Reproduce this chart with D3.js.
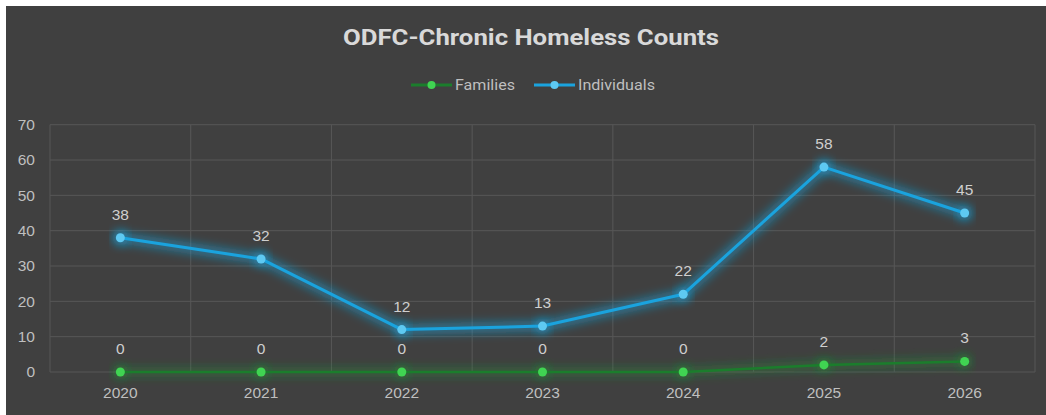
<!DOCTYPE html>
<html><head><meta charset="utf-8">
<script src="https://cdn.jsdelivr.net/npm/d3@7/dist/d3.min.js"></script>
<style>html,body{margin:0;padding:0;background:#fff;}svg{display:block;}</style>
</head><body>
<svg id="chart" width="1046" height="415"></svg>
<script>
const years = ["2020","2021","2022","2023","2024","2025","2026"];
const families = [0,0,0,0,0,2,3];
const individuals = [38,32,12,13,22,58,45];
const yTicks = [0,10,20,30,40,50,60,70];
const title = "ODFC-Chronic Homeless Counts";
const seriesNames = ["Families","Individuals"];

const svg = d3.select("#chart");
const W = 1046, H = 415;
svg.append("rect").attr("x",6).attr("y",6).attr("width",W-6).attr("height",H-6).attr("fill","#404040");

const defs = svg.append("defs");
const glow = defs.append("filter").attr("id","glow").attr("x","-20%").attr("y","-50%").attr("width","140%").attr("height","200%");
glow.append("feGaussianBlur").attr("stdDeviation",5);
const glowG = defs.append("filter").attr("id","glowG").attr("x","-20%").attr("y","-300%").attr("width","140%").attr("height","700%");
glowG.append("feGaussianBlur").attr("stdDeviation",5);

const m = {l:50, r:1035, t:124.7, b:372};
const x = d3.scaleBand().domain(years).range([m.l, m.r]);
const y = d3.scaleLinear().domain([0,70]).range([m.b, m.t]);
const cx = d => x(d) + x.bandwidth()/2;
const labFont = "'Liberation Sans', Arial, sans-serif";

// grid
const grid = svg.append("g");
grid.selectAll("line.h").data(yTicks).join("line")
  .attr("x1",m.l).attr("x2",m.r).attr("y1",d=>y(d)).attr("y2",d=>y(d))
  .attr("stroke","#575757").attr("stroke-width",1);
const vb = years.map(d=>x(d)).concat([m.r]);
grid.selectAll("line.v").data(vb).join("line")
  .attr("x1",d=>d).attr("x2",d=>d).attr("y1",m.t).attr("y2",m.b)
  .attr("stroke","#575757").attr("stroke-width",1);

// axes
const yAxis = svg.append("g").attr("transform",`translate(${m.l-15},0)`)
  .call(d3.axisLeft(y).tickValues(yTicks).tickSize(0).tickPadding(0));
yAxis.select(".domain").remove();
yAxis.selectAll("text").attr("fill","#bfbfbf").style("font-family",labFont).style("font-size","15.5px");

const xAxis = svg.append("g").attr("transform",`translate(0,${m.b})`)
  .call(d3.axisBottom(x).tickSize(0).tickPadding(15));
xAxis.select(".domain").remove();
xAxis.selectAll("text").attr("fill","#bfbfbf").style("font-family",labFont).style("font-size","15.5px");

const line = d3.line().x((d,i)=>cx(years[i])).y(d=>y(d));

function drawSeries(vals, lineColor, glowColor, dotColor, filt, glowW, glowOp, lw){
  const g = svg.append("g");
  g.append("path").attr("d",line(vals)).attr("fill","none").attr("stroke",glowColor)
    .attr("stroke-width",glowW).attr("stroke-opacity",glowOp).attr("filter",`url(#${filt})`)
    .attr("stroke-linejoin","round").attr("stroke-linecap","round");
  g.selectAll("circle.gl").data(vals).join("circle")
    .attr("cx",(d,i)=>cx(years[i])).attr("cy",d=>y(d)).attr("r",8)
    .attr("fill",glowColor).attr("fill-opacity",glowOp).attr("filter",`url(#${filt})`);
  g.append("path").attr("d",line(vals)).attr("fill","none").attr("stroke",lineColor)
    .attr("stroke-width",lw).attr("stroke-linejoin","round");
  g.selectAll("circle.dot").data(vals).join("circle")
    .attr("cx",(d,i)=>cx(years[i])).attr("cy",d=>y(d)).attr("r",4.5).attr("fill",dotColor);
  g.selectAll("text").data(vals).join("text")
    .attr("x",(d,i)=>cx(years[i])).attr("y",d=>y(d)-18)
    .attr("text-anchor","middle").attr("fill","#cfcfcf")
    .style("font-family",labFont).style("font-size","15.5px")
    .text(d=>d);
}
drawSeries(families, "#1b7d2c", "#1f9a35", "#40d452", "glowG", 10, 0.35, 2.5);
drawSeries(individuals, "#1aa3de", "#1aa3de", "#5ec9f2", "glow", 11, 0.5, 3);

// title
svg.append("text").attr("x",531).attr("y",45).attr("text-anchor","middle")
  .attr("fill","#d9d9d9").style("font-family","Roboto, sans-serif").style("font-weight","bold")
  .style("font-size","22px").attr("textLength",376).attr("lengthAdjust","spacingAndGlyphs").text(title);

// legend
const leg = [
  {name:seriesNames[0], x0:411, line:"#1b7d2c", dot:"#40d452", tw:60},
  {name:seriesNames[1], x0:534, line:"#1aa3de", dot:"#5ec9f2", tw:77}
];
const lg = svg.append("g");
leg.forEach(l=>{
  lg.append("line").attr("x1",l.x0).attr("x2",l.x0+41).attr("y1",85).attr("y2",85).attr("stroke",l.line).attr("stroke-width",3);
  lg.append("circle").attr("cx",l.x0+20.5).attr("cy",85).attr("r",4).attr("fill",l.dot);
  lg.append("text").attr("x",l.x0+44).attr("y",90).attr("fill","#bfbfbf")
    .style("font-family","Roboto, sans-serif").style("font-size","15px")
    .attr("textLength",l.tw).attr("lengthAdjust","spacingAndGlyphs").text(l.name);
});
</script>
</body></html>
